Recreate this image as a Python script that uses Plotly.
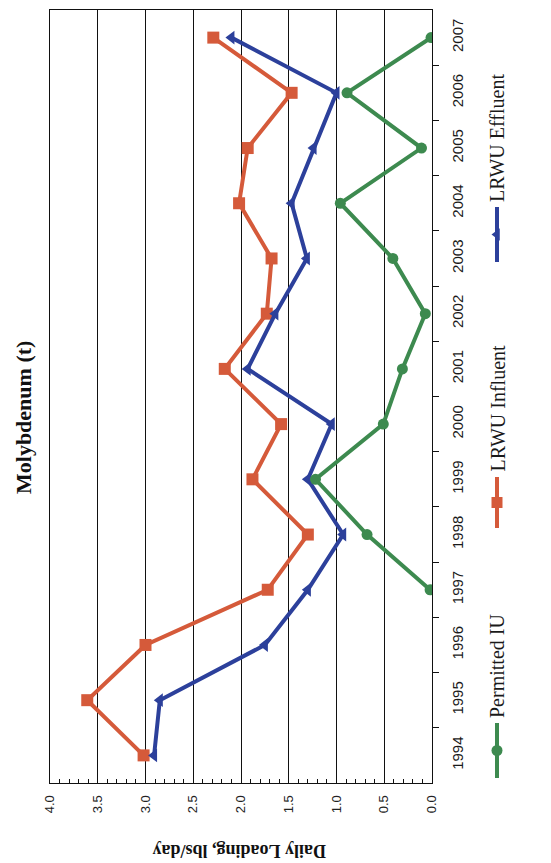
import plotly.graph_objects as go

W, H = 551, 863

years = [1994, 1995, 1996, 1997, 1998, 1999, 2000, 2001, 2002, 2003, 2004, 2005, 2006, 2007]
year_labels = [str(y) for y in years]
influent = [3.02, 3.61, 3.00, 1.72, 1.30, 1.88, 1.58, 2.17, 1.73, 1.68, 2.02, 1.93, 1.47, 2.29]
effluent = [2.91, 2.85, 1.75, 1.30, 0.93, 1.30, 1.05, 1.93, 1.64, 1.31, 1.47, 1.24, 1.00, 2.10]
permitted_years = [1997, 1998, 1999, 2000, 2001, 2002, 2003, 2004, 2005, 2006, 2007]
permitted = [0.02, 0.68, 1.22, 0.51, 0.31, 0.07, 0.41, 0.96, 0.11, 0.89, 0.01]
value_ticks = [0.0, 0.5, 1.0, 1.5, 2.0, 2.5, 3.0, 3.5, 4.0]

C_INF = "#D55A3A"
C_EFF = "#2C409B"
C_PER = "#3D8A4F"

# plot area in pixels
PL, PR, PT, PB = 50, 432, 10, 783

fig = go.Figure()

fig.add_trace(go.Scatter(x=influent, y=years, mode="lines+markers",
                         line=dict(color=C_INF, width=4),
                         marker=dict(symbol="square", size=12, color=C_INF),
                         name="LRWU Influent"))
fig.add_trace(go.Scatter(x=effluent, y=years, mode="lines+markers",
                         line=dict(color=C_EFF, width=4),
                         marker=dict(symbol="triangle-left", size=12, color=C_EFF),
                         name="LRWU Effluent"))
fig.add_trace(go.Scatter(x=permitted, y=permitted_years, mode="lines+markers",
                         line=dict(color=C_PER, width=4),
                         marker=dict(symbol="circle", size=11, color=C_PER),
                         name="Permitted IU"))

# legend drawn manually (rotated), in pixel coordinates of an overlay axis
legend_items = [
    ("Permitted IU", C_PER, "circle", 723, 778),
    ("LRWU Influent", C_INF, "square", 477, 528),
    ("LRWU Effluent", C_EFF, "triangle-left", 207, 262),
]
LX = 497
for name, col, sym, y0, y1 in legend_items:
    fig.add_trace(go.Scatter(x=[LX, LX], y=[y0, y1], xaxis="x2", yaxis="y2",
                             mode="lines", line=dict(color=col, width=4),
                             hoverinfo="skip"))
    fig.add_trace(go.Scatter(x=[LX], y=[(y0 + y1) / 2], xaxis="x2", yaxis="y2",
                             mode="markers", marker=dict(symbol=sym, size=11, color=col),
                             hoverinfo="skip"))
    fig.add_annotation(x=LX / W, y=1 - (y0 - 3) / H, xref="paper", yref="paper",
                       text=name, textangle=-90, showarrow=False,
                       xanchor="center", yanchor="bottom",
                       font=dict(family="Liberation Serif, Times New Roman, serif",
                                 size=20, color="#1a1a1a"))

fig.add_annotation(x=23 / W, y=1 - 418 / H, xref="paper", yref="paper",
                   text="<b>Molybdenum (t)</b>", textangle=-90, showarrow=False,
                   xanchor="center", yanchor="middle",
                   font=dict(family="Liberation Serif, Times New Roman, serif",
                             size=22, color="#111"))
fig.add_annotation(x=239 / W, y=1 - 851 / H, xref="paper", yref="paper",
                   text="<b>Daily Loading, lbs/day</b>", textangle=180, showarrow=False,
                   xanchor="center", yanchor="middle",
                   font=dict(family="Liberation Serif, Times New Roman, serif",
                             size=18, color="#111"))

fig.update_layout(
    width=W, height=H,
    margin=dict(l=0, r=0, t=0, b=0, autoexpand=False),
    paper_bgcolor="white", plot_bgcolor="rgba(0,0,0,0)",
    showlegend=False,
    xaxis=dict(domain=[PL / W, PR / W], range=[4.0, 0.0], tickvals=value_ticks,
               ticktext=[f"{v:.1f}" for v in value_ticks], automargin=False,
               tickangle=-90, showgrid=True, gridcolor="#111", gridwidth=1,
               showline=True, linecolor="#111", linewidth=1, mirror=True,
               ticks="inside", ticklen=6, tickcolor="#111",
               minor=dict(dtick=0.1, ticks="inside", ticklen=4, tickcolor="#111", showgrid=False),
               zeroline=False, ticklabelstandoff=6,
               tickfont=dict(family="Liberation Sans, Arial, sans-serif", size=13, color="#222"),
               anchor="y"),
    yaxis=dict(domain=[1 - PB / H, 1 - PT / H], range=[1993.5, 2007.5], automargin=False,
               side="right", tickvals=years, ticktext=year_labels, tickangle=-90,
               ticks="", showgrid=False, zeroline=False,
               showline=True, linecolor="#111", linewidth=1, mirror=True,
               minor=dict(tickvals=[y + 0.5 for y in years[:-1]], ticks="outside",
                          ticklen=6, tickcolor="#111", showgrid=False),
               ticklabelstandoff=12,
               tickfont=dict(family="Liberation Sans Narrow, Arial Narrow, Liberation Sans, sans-serif",
                             size=15, color="#1a1a1a"),
               anchor="x"),
    xaxis2=dict(domain=[0, 1], range=[0, W], visible=False, anchor="y2", fixedrange=True,
                automargin=False),
    yaxis2=dict(domain=[0, 1], range=[H, 0], visible=False, anchor="x2", fixedrange=True,
                automargin=False),
)

fig.write_html("out.html", config={"displayModeBar": False},
               post_script="document.body.style.margin='0';document.body.style.overflow='hidden';")
